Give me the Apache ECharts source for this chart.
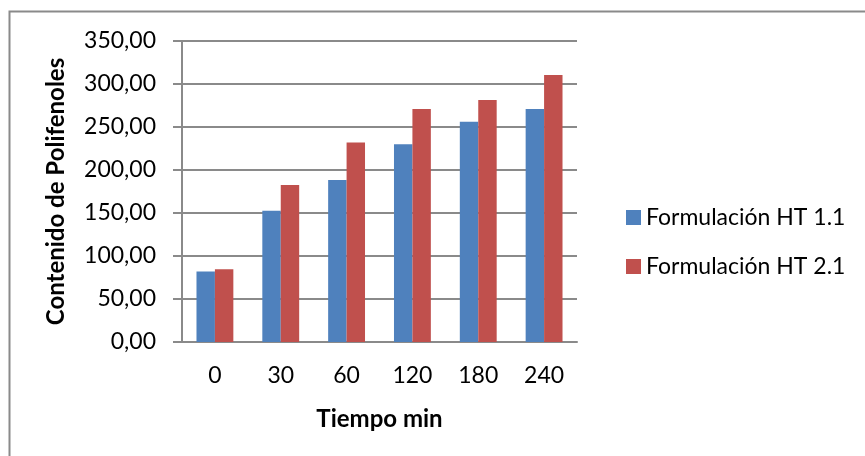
<!DOCTYPE html>
<html>
<head>
<meta charset="utf-8">
<script src="https://cdn.jsdelivr.net/npm/echarts@6/dist/echarts.min.js"></script>
<style>html,body{margin:0;padding:0;background:#fff}#c{width:865px;height:456px}</style>
</head>
<body>
<div id="c"></div>
<script>
var categories = ['0', '30', '60', '120', '180', '240'];
var seriesNames = ['Formulación HT 1.1', 'Formulación HT 2.1'];
var seriesHT11 = [82, 152.5, 188.5, 230, 256, 271];
var seriesHT21 = [84.5, 182.5, 232, 271, 281.5, 310.5];
var yTickValues = [0, 50, 100, 150, 200, 250, 300, 350];
var yTickLabels = ['0,00', '50,00', '100,00', '150,00', '200,00', '250,00', '300,00', '350,00'];
var xTitle = 'Tiempo min';
var yTitle = 'Contenido de Polifenoles';

var FONT = 'Lato';
var chart = echarts.init(document.getElementById('c'), null, {renderer: 'canvas'});
chart.setOption({
  animation: false,
  backgroundColor: '#ffffff',
  textStyle: {fontFamily: FONT},
  graphic: [{
    type: 'rect', silent: true,
    shape: {x: 9.5, y: 11.5, width: 1000, height: 1000},
    style: {fill: 'none', stroke: '#8a8a8a', lineWidth: 2}
  }],
  grid: {left: 182, right: 288, top: 41, bottom: 114, containLabel: false},
  legend: {
    orient: 'vertical', left: 621, top: 201,
    itemWidth: 15, itemHeight: 15, itemGap: 26,
    icon: 'rect',
    textStyle: {fontFamily: FONT, fontSize: 23, color: '#000'},
    data: seriesNames
  },
  xAxis: {
    type: 'category', data: categories,
    name: xTitle, nameLocation: 'middle', nameGap: 65,
    nameTextStyle: {fontFamily: FONT, fontSize: 24, fontWeight: 'bold', color: '#000'},
    axisLine: {lineStyle: {color: '#8a8a8a', width: 2}},
    axisTick: {show: false},
    axisLabel: {margin: 22, fontFamily: FONT, fontSize: 23, color: '#000'}
  },
  yAxis: {
    type: 'value', min: 0, max: 350, interval: 50,
    name: yTitle, nameLocation: 'middle', nameGap: 114, nameRotate: 90,
    nameTextStyle: {fontFamily: FONT, fontSize: 24, fontWeight: 'bold', color: '#000'},
    axisLine: {show: true, lineStyle: {color: '#8a8a8a', width: 2}},
    axisTick: {show: true, length: 9, lineStyle: {color: '#8a8a8a', width: 2}},
    splitLine: {lineStyle: {color: '#8a8a8a', width: 2}},
    axisLabel: {
      margin: 26, fontFamily: FONT, fontSize: 23, color: '#000',
      formatter: function (v) { var i = yTickValues.indexOf(v); return i >= 0 ? yTickLabels[i] : ''; }
    }
  },
  series: [{
    name: seriesNames[0], type: 'bar', data: seriesHT11,
    itemStyle: {color: '#4F81BD'},
    barGap: '0%', barCategoryGap: '44%'
  }, {
    name: seriesNames[1], type: 'bar', data: seriesHT21,
    itemStyle: {color: '#C0504D'},
    barGap: '0%', barCategoryGap: '44%'
  }]
});
</script>
</body>
</html>
